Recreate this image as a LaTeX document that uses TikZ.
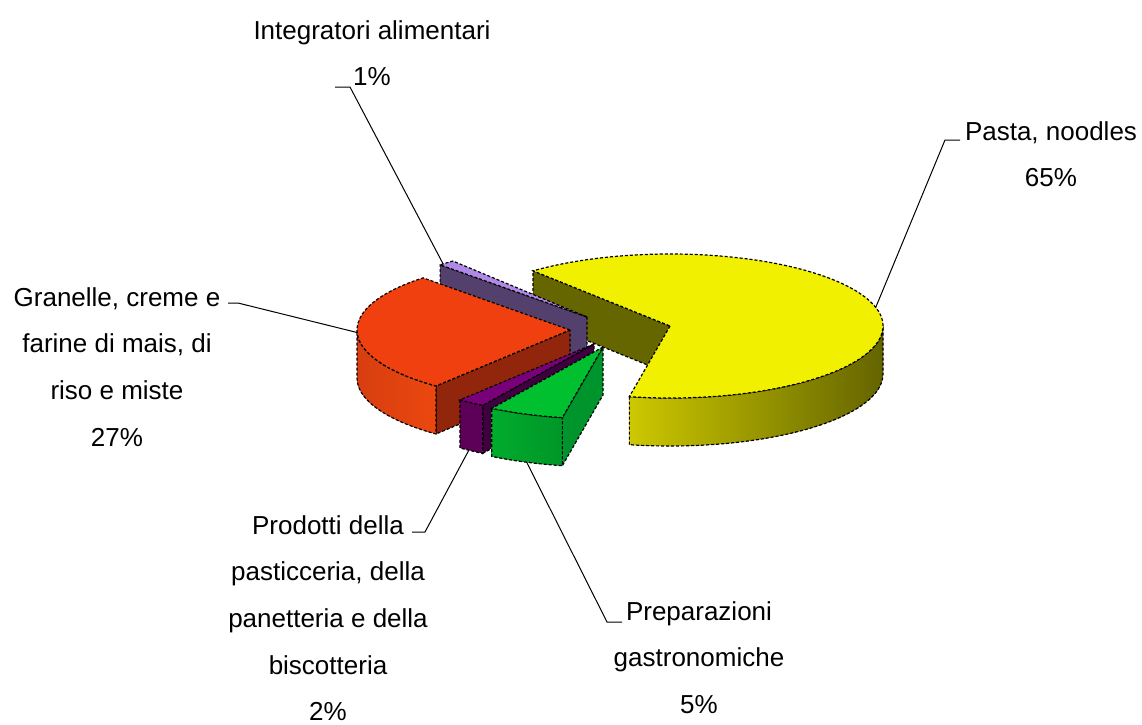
\documentclass[tikz,border=0pt]{standalone}
\usepackage{fontspec}
\setmainfont{Liberation Sans}
\usepackage{xcolor}
\usepackage{tikz}
\usetikzlibrary{calc}

\definecolor{pastaTop}{RGB}{240,240,0}
\definecolor{pastaCut}{RGB}{102,102,0}
\definecolor{pastaSideA}{RGB}{205,200,0}
\definecolor{pastaSideB}{RGB}{100,100,0}
\definecolor{intTop}{RGB}{176,136,232}
\definecolor{intCut}{RGB}{84,64,108}
\definecolor{granTop}{RGB}{240,64,16}
\definecolor{granSideA}{RGB}{215,62,16}
\definecolor{granSideB}{RGB}{235,72,14}
\definecolor{granCut}{RGB}{145,38,12}
\definecolor{prodTop}{RGB}{120,0,120}
\definecolor{prodSide}{RGB}{92,0,88}
\definecolor{prodCut}{RGB}{64,0,64}
\definecolor{prepTop}{RGB}{0,192,48}
\definecolor{prepSideA}{RGB}{0,172,44}
\definecolor{prepSideB}{RGB}{0,150,40}
\definecolor{prepCut}{RGB}{0,148,44}

\begin{document}
\begin{tikzpicture}[
  x=0.5pt, y=0.5pt,
  rim/.style = {draw=black, line width=0.6pt, dash pattern=on 1.5pt off 1pt},
  lbl/.style = {anchor=north, align=center, inner sep=0pt, font=\fontsize{13}{23.3}\selectfont},
  lead/.style = {draw, line width=0.5pt}
  ]
 \useasboundingbox (0,0) rectangle (1142,-724);
 % Slice centres
 \coordinate (pastaC) at (670,-326);
 \coordinate (intC) at (587,-317);
 \coordinate (granC) at (570,-330);
 \coordinate (prodC) at (594,-344);
 \coordinate (prepC) at (603,-347);
 % Pasta, noodles
 \filldraw[fill=pastaCut, rim] (pastaC) -- ++(130:213 and 72) -- ++(0,-48) -- ($(pastaC)+(0,-48)$) -- cycle;
 \filldraw[left color=pastaSideA, right color=pastaSideB, rim] ($(pastaC)+(-101:213 and 72)$)
  arc[start angle=-101, end angle=0, x radius=213, y radius=72] -- ++(0,-48)
  arc[start angle=0, end angle=-101, x radius=213, y radius=72] -- cycle;
 \filldraw[fill=pastaTop, rim] (pastaC) -- ++(-101:213 and 72)
  arc[start angle=-101, end angle=130, x radius=213, y radius=72] -- cycle;
 % Integratori alimentari
 \filldraw[fill=intCut, rim] (intC) -- ++(133.6:213 and 72) -- ++(0,-48) -- ($(intC)+(0,-48)$) -- cycle;
 \filldraw[fill=intTop, rim] (intC) -- ++(129:213 and 72)
  arc[start angle=129, end angle=133.6, x radius=213, y radius=72] -- cycle;
 % Granelle, creme e farine
 \filldraw[fill=granCut, rim] (granC) -- ++(231:213 and 72) -- ++(0,-48) -- ($(granC)+(0,-48)$) -- cycle;
 \filldraw[left color=granSideA, right color=granSideB, rim] ($(granC)+(180:213 and 72)$)
  arc[start angle=180, end angle=231, x radius=213, y radius=72] -- ++(0,-48)
  arc[start angle=231, end angle=180, x radius=213, y radius=72] -- cycle;
 \filldraw[fill=granTop, rim] (granC) -- ++(133.6:213 and 72)
  arc[start angle=133.6, end angle=231, x radius=213, y radius=72] -- cycle;
 % Prodotti della pasticceria
 \filldraw[fill=prodCut, rim] (prodC) -- ++(238.5:213 and 72) -- ++(0,-48) -- ($(prodC)+(0,-48)$) -- cycle;
 \filldraw[fill=prodSide, rim] ($(prodC)+(231:213 and 72)$)
  arc[start angle=231, end angle=238.5, x radius=213, y radius=72] -- ++(0,-48)
  arc[start angle=238.5, end angle=231, x radius=213, y radius=72] -- cycle;
 \filldraw[fill=prodTop, rim] (prodC) -- ++(231:213 and 72)
  arc[start angle=231, end angle=238.5, x radius=213, y radius=72] -- cycle;
 % Preparazioni gastronomiche
 \filldraw[fill=prepCut, rim] (prepC) -- ++(259:213 and 72) -- ++(0,-48) -- ($(prepC)+(0,-48)$) -- cycle;
 \filldraw[left color=prepSideA, right color=prepSideB, rim] ($(prepC)+(238.5:213 and 72)$)
  arc[start angle=238.5, end angle=259, x radius=213, y radius=72] -- ++(0,-48)
  arc[start angle=259, end angle=238.5, x radius=213, y radius=72] -- cycle;
 \filldraw[fill=prepTop, rim] (prepC) -- ++(238.5:213 and 72)
  arc[start angle=238.5, end angle=259, x radius=213, y radius=72] -- cycle;
 % Labels
 \node[lbl] (intLbl) at (372,-20) {Integratori alimentari\\1\%};
 \node[lbl] (pastaLbl) at (1051,-121) {Pasta, noodles\\65\%};
 \node[lbl] (granLbl) at (117,-287) {Granelle, creme e\\farine di mais, di\\riso e miste\\27\%};
 \node[lbl] (prodLbl) at (328,-515) {Prodotti della\\pasticceria, della\\panetteria e della\\biscotteria\\2\%};
 \node[lbl] (prepLbl) at (699,-601) {Preparazioni\\gastronomiche\\5\%};
 % Leader lines
 \coordinate (intTip) at ($(intC)+(132.5:213 and 72)$);
 \coordinate (intElb) at (350,-87);
 \coordinate (intEnd) at (335,-87);
 \coordinate (pastaTip) at ($(pastaC)+(15:213 and 72)$);
 \coordinate (pastaElb) at (945,-140);
 \coordinate (pastaEnd) at (960,-140);
 \coordinate (granTip) at ($(granC)+(182:213 and 72)$);
 \coordinate (granElb) at (238,-303);
 \coordinate (granEnd) at (228,-303);
 \coordinate (prodTip) at ($(prodC)+(0,-48)+(234:213 and 72)$);
 \coordinate (prodElb) at (425,-532);
 \coordinate (prodEnd) at (412,-532);
 \coordinate (prepTip) at ($(prepC)+(0,-48)+(249:213 and 72)$);
 \coordinate (prepElb) at (607,-622);
 \coordinate (prepEnd) at (622,-622);
 \draw[lead] (intTip) -- (intElb) -- (intEnd);
 \draw[lead] (pastaTip) -- (pastaElb) -- (pastaEnd);
 \draw[lead] (granTip) -- (granElb) -- (granEnd);
 \draw[lead] (prodTip) -- (prodElb) -- (prodEnd);
 \draw[lead] (prepTip) -- (prepElb) -- (prepEnd);
\end{tikzpicture}
\end{document}
